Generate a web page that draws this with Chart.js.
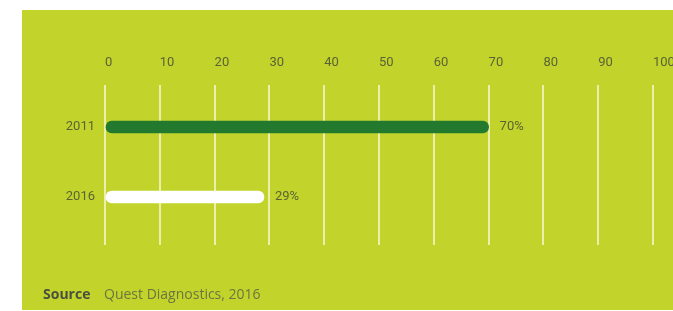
<!DOCTYPE html>
<html>
<head>
<meta charset="utf-8">
<script src="https://cdn.jsdelivr.net/npm/chart.js@4"></script>
<style>
  html, body { margin: 0; padding: 0; background: #fff; }
  #panel { position: absolute; left: 22px; top: 10px; width: 651px; height: 300px; background: #c2d42b; overflow: hidden; }
  #panel canvas { position: absolute; left: 0; top: 0; }
  .src { position: absolute; top: 275px; font: 14px "Open Sans", sans-serif; line-height: 18px; white-space: nowrap; }
  #srcLabel { left: 21px; font-weight: bold; color: #4b4f3f; }
  #srcText { left: 82px; color: #6b7540; }
</style>
</head>
<body>
<div id="panel">
  <canvas id="chart" width="720" height="300"></canvas>
  <span class="src" id="srcLabel">Source</span>
  <span class="src" id="srcText">Quest Diagnostics, 2016</span>
</div>
<script>
const years = ["2011", "2016"];
const shares = [70, 29];
const barColors = ["#23792d", "#ffffff"];
const xMin = 0;
const xMax = 100;
const xStep = 10;

const textColor = "#5a6236";
const gridColor = "rgba(255,255,240,0.65)";
const font = { family: "Roboto", size: 13 };

// percent labels right of each bar
const valueLabels = {
	id: "valueLabels",
	afterDatasetsDraw(chart) {
		const ctx = chart.ctx;
		const meta = chart.getDatasetMeta(0);
		ctx.save();
		ctx.font = "13px Roboto";
		ctx.fillStyle = textColor;
		ctx.textBaseline = "middle";
		meta.data.forEach((bar, i) => {
			ctx.fillText(shares[i] + "%", bar.x + 11, bar.y);
		});
		ctx.restore();
	},
};

new Chart(document.getElementById("chart"), {
	type: "bar",
	data: {
		labels: years,
		datasets: [
			{
				data: shares,
				backgroundColor: barColors,
				barThickness: 12,
				borderRadius: 6,
				borderSkipped: false,
			},
		],
	},
	options: {
		indexAxis: "y",
		responsive: false,
		animation: false,
		layout: { padding: { left: 0, top: 0, right: 89, bottom: 65 } },
		plugins: { legend: { display: false }, tooltip: { enabled: false } },
		scales: {
			x: {
				position: "top",
				min: xMin,
				max: xMax,
				grid: { color: gridColor, lineWidth: 2, tickLength: 7, drawTicks: true },
				border: { display: false },
				ticks: { stepSize: xStep, align: "start", padding: 14, color: textColor, font: font },
				afterFit(scale) { scale.height = 82; },
			},
			x2: {
				position: "bottom",
				min: xMin,
				max: xMax,
				grid: { color: gridColor, lineWidth: 2, tickLength: 13, drawOnChartArea: false, drawTicks: true },
				border: { display: false },
				ticks: { stepSize: xStep, display: false },
				afterFit(scale) { scale.height = 13; },
			},
			y: {
				grid: { display: false, drawTicks: false },
				border: { display: false },
				ticks: { padding: 10, color: textColor, font: font },
				afterFit(scale) { scale.width = 83; },
			},
		},
	},
	plugins: [valueLabels],
});
</script>
</body>
</html>
